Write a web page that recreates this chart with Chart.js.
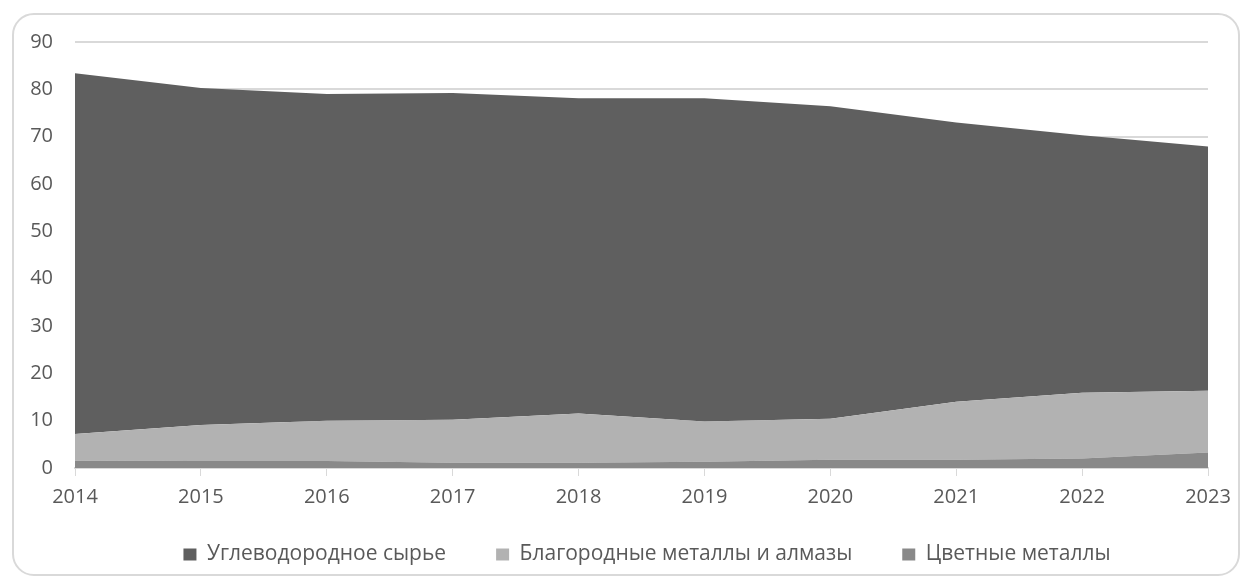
<!DOCTYPE html>
<html>
<head>
<meta charset="utf-8">
<script src="https://cdn.jsdelivr.net/npm/chart.js@4.4.1/dist/chart.umd.min.js"></script>
<style>
  html, body { margin: 0; padding: 0; background: #fff; }
  #wrap { position: relative; width: 1250px; height: 582px; }
  #frame {
    position: absolute; left: 12px; top: 13px; width: 1224px; height: 559px;
    border: 2px solid #d9d9d9; border-radius: 22px; pointer-events: none;
  }
  #chart { position: absolute; left: 0; top: 0; }
</style>
</head>
<body>
<div id="wrap">
  <canvas id="chart" width="1250" height="582"></canvas>
  <div id="frame"></div>
</div>
<script>
// годы
var years = ["2014", "2015", "2016", "2017", "2018", "2019", "2020", "2021", "2022", "2023"];
// серии (снизу вверх)
var nonFerrous = [1.55, 1.5, 1.5, 1.1, 1.1, 1.3, 1.75, 1.75, 2.0, 3.25];
var precious = [5.65, 7.6, 8.5, 9.1, 10.4, 8.5, 8.65, 12.25, 13.9, 13.05];
var hydrocarbons = [76.2, 71.2, 69.0, 69.0, 66.6, 68.3, 66.0, 59.0, 54.4, 51.6];

var font = "'Open Sans', sans-serif";
var textColor = "#595959";
var gridColor = "#d9d9d9";

function area(label, data, color, fill) {
  return {
    label: label,
    data: data,
    backgroundColor: color,
    borderColor: color,
    borderWidth: 0,
    pointRadius: 0,
    tension: 0,
    fill: fill
  };
}

// легенда: центрируем под осью и поднимаем повыше
var legendShift = {
  id: "legendShift",
  afterLayout: function(chart) {
    var lg = chart.legend;
    if (lg) {
      lg.left += 86;
      lg.top -= 22;
      lg.bottom -= 22;
    }
  }
};

new Chart(document.getElementById("chart"), {
  type: "line",
  data: {
    labels: years,
    datasets: [
      area("Цветные металлы", nonFerrous, "#898989", "origin"),
      area("Благородные металлы и алмазы", precious, "#b2b2b2", "-1"),
      area("Углеводородное сырье", hydrocarbons, "#5f5f5f", "-1")
    ]
  },
  plugins: [legendShift],
  options: {
    responsive: false,
    animation: false,
    layout: { padding: { left: 0, right: 42, top: 42, bottom: -15 } },
    plugins: {
      tooltip: { enabled: false },
      legend: {
        position: "bottom",
        reverse: true,
        labels: {
          color: textColor,
          font: { family: font, size: 21 },
          boxWidth: 13,
          boxHeight: 12,
          padding: 50
        }
      }
    },
    scales: {
      x: {
        offset: false,
        grid: { drawOnChartArea: false, drawTicks: true, tickLength: 8, color: gridColor },
        border: { display: true, color: gridColor, width: 2 },
        ticks: { color: textColor, font: { family: font, size: 20 }, padding: 9, maxRotation: 0 },
        afterFit: function(scale) { scale.height = 48; }
      },
      y: {
        stacked: true,
        min: 0,
        max: 90,
        grid: { color: gridColor, lineWidth: 2, drawTicks: false },
        border: { display: false },
        ticks: { stepSize: 10, color: textColor, font: { family: font, size: 20 }, padding: 22 },
        afterFit: function(scale) { scale.width = 75; }
      }
    }
  }
});
</script>
</body>
</html>
